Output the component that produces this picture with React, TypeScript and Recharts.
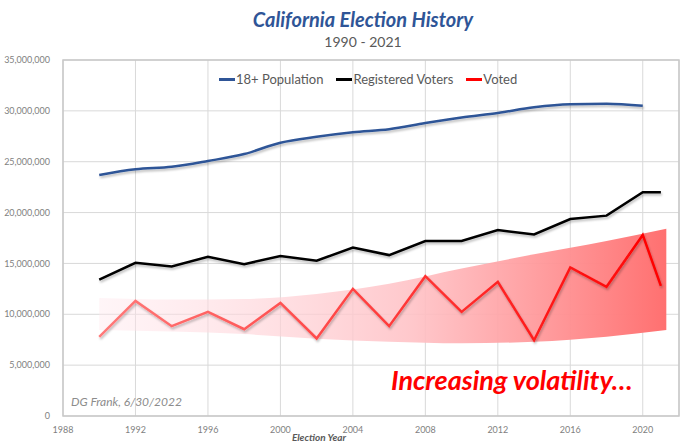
import React from "react";
import {
  ComposedChart,
  Line,
  Area,
  XAxis,
  YAxis,
  CartesianGrid,
  ReferenceArea,
} from "recharts";

// election years (even years + 2021 recall)
const years = [
  1990, 1992, 1994, 1996, 1998, 2000, 2002, 2004, 2006, 2008, 2010, 2012, 2014,
  2016, 2018, 2020, 2021,
];

const population = [
  23700000, 24250000, 24500000, 25070000, 25750000, 26870000, 27450000,
  27900000, 28200000, 28800000, 29350000, 29800000, 30350000, 30650000,
  30700000, 30500000, null,
];

const registered = [
  13400000, 15060000, 14700000, 15650000, 14930000, 15720000, 15260000,
  16570000, 15820000, 17200000, 17200000, 18280000, 17850000, 19360000,
  19700000, 22000000, 22000000,
];

const voted = [
  7780000, 11320000, 8830000, 10240000, 8530000, 11120000, 7620000, 12500000,
  8830000, 13750000, 10240000, 13190000, 7450000, 14600000, 12700000,
  17800000, 12800000,
];

// shaded "volatility" band
const bandYears = [1990, 1994, 1998, 2002, 2006, 2010, 2014, 2018, 2021.3];
const bandLow = [
  8450000, 8300000, 8050000, 7600000, 7300000, 7150000, 7300000, 7800000,
  8450000,
];
const bandHigh = [
  11600000, 11450000, 11500000, 12000000, 13000000, 14500000, 15900000,
  17200000, 18400000,
];

const xTicks = [1988, 1992, 1996, 2000, 2004, 2008, 2012, 2016, 2020];
const yTicks = [0, 5000000, 10000000, 15000000, 20000000, 25000000, 30000000, 35000000];

const legendItems = [
  { name: "18+ Population", color: "#2F5597" },
  { name: "Registered Voters", color: "#000000" },
  { name: "Voted", color: "#FF0000" },
];

type Row = {
  year: number;
  population?: number | null;
  registered?: number | null;
  voted?: number | null;
  band?: [number, number] | null;
};

const allX = Array.from(new Set([...years, ...bandYears])).sort((a, b) => a - b);
const data: Row[] = allX.map((x) => {
  const i = years.indexOf(x);
  const j = bandYears.indexOf(x);
  return {
    year: x,
    population: i >= 0 ? population[i] : null,
    registered: i >= 0 ? registered[i] : null,
    voted: i >= 0 ? voted[i] : null,
    band: j >= 0 ? [bandLow[j], bandHigh[j]] : null,
  };
});

const FONT = "Lato, 'Open Sans', sans-serif";
const fmt = (v: number) => v.toLocaleString("en-US");

export default function App() {
  return (
    <div
      style={{
        position: "absolute",
        left: 0,
        top: 0,
        width: 687,
        height: 446,
        background: "#fff",
        fontFamily: FONT,
      }}
    >
      <div
        style={{
          position: "absolute",
          top: 7,
          left: 0,
          width: 726,
          textAlign: "center",
          fontSize: 20,
          fontWeight: 700,
          fontStyle: "italic",
          color: "#2F5597",
        }}
      >
        California Election History
      </div>
      <div
        style={{
          position: "absolute",
          top: 33,
          left: 0,
          width: 726,
          textAlign: "center",
          fontSize: 14,
          color: "#595959",
        }}
      >
        1990 - 2021
      </div>
      <ComposedChart
        width={687}
        height={446}
        data={data}
        margin={{ top: 60, right: 8, left: 0, bottom: 0 }}
      >
        <defs>
          <linearGradient id="bandFill" x1="0" y1="0" x2="1" y2="0">
            <stop offset="0%" stopColor="#FFE6EC" stopOpacity={0.4} />
            <stop offset="55%" stopColor="#FFC2C6" stopOpacity={0.9} />
            <stop offset="100%" stopColor="#FF7070" stopOpacity={1} />
          </linearGradient>
          <linearGradient id="redLine" x1="0" y1="0" x2="1" y2="0">
            <stop offset="0%" stopColor="#FF7A7A" />
            <stop offset="100%" stopColor="#FF0000" />
          </linearGradient>
          <filter id="shadow" x="-5%" y="-20%" width="110%" height="160%">
            <feDropShadow dx="1" dy="2" stdDeviation="1" floodColor="#000" floodOpacity="0.25" />
          </filter>
        </defs>
        <CartesianGrid stroke="#D9D9D9" strokeWidth={1} />
        <XAxis
          dataKey="year"
          type="number"
          domain={[1988, 2022]}
          ticks={xTicks}
          height={30}
          axisLine={false}
          tickLine={false}
          tickMargin={5}
          tick={{ fontSize: 9, fill: "#7F7F7F", fontFamily: FONT }}
          interval={0}
        />
        <YAxis
          type="number"
          domain={[0, 35000000]}
          ticks={yTicks}
          width={63}
          axisLine={false}
          tickLine={false}
          tickMargin={7}
          tickFormatter={fmt}
          tick={{ fontSize: 9, fill: "#7F7F7F", fontFamily: FONT }}
          interval={0}
        />
        <ReferenceArea
          x1={1988}
          x2={2022}
          y1={0}
          y2={35000000}
          fill="none"
          stroke="#C8C8C8"
          strokeWidth={1.5}
          ifOverflow="visible"
        />
        <Area
          dataKey="band"
          type="monotone"
          fill="url(#bandFill)"
          stroke="none"
          fillOpacity={1}
          connectNulls
          legendType="none"
          isAnimationActive={false}
          activeDot={false}
        />
        <Line
          dataKey="population"
          name="18+ Population"
          type="monotone"
          stroke="#2F5597"
          strokeWidth={2.5}
          dot={false}
          filter="url(#shadow)"
          isAnimationActive={false}
        />
        <Line
          dataKey="registered"
          name="Registered Voters"
          type="linear"
          stroke="#000000"
          strokeWidth={2.5}
          dot={false}
          filter="url(#shadow)"
          isAnimationActive={false}
        />
        <Line
          dataKey="voted"
          name="Voted"
          type="linear"
          stroke="url(#redLine)"
          strokeWidth={2.5}
          dot={false}
          filter="url(#shadow)"
          isAnimationActive={false}
        />
      </ComposedChart>
      <div
        style={{
          position: "absolute",
          top: 71,
          left: 219,
          display: "flex",
          fontSize: 13,
          color: "#595959",
          gap: 13,
        }}
      >
        {legendItems.map((it) => (
          <div key={it.name} style={{ display: "flex", alignItems: "center" }}>
            <span
              style={{
                display: "inline-block",
                width: 16,
                height: 3,
                background: it.color,
                marginRight: 1,
              }}
            />
            {it.name}
          </div>
        ))}
      </div>
      <div
        style={{
          position: "absolute",
          left: 0,
          width: 638,
          top: 431,
          textAlign: "center",
          fontSize: 10,
          fontWeight: 700,
          fontStyle: "italic",
          color: "#595959",
        }}
      >
        Election Year
      </div>
      <div
        style={{
          position: "absolute",
          left: 71,
          top: 394,
          fontSize: 12,
          fontStyle: "italic",
          color: "#8C8C8C",
        }}
      >
        DG Frank, 6/30/2022
      </div>
      <div
        style={{
          position: "absolute",
          left: 391,
          top: 363,
          fontSize: 27,
          fontWeight: 700,
          fontStyle: "italic",
          color: "#FF0000",
          whiteSpace: "nowrap",
        }}
      >
        Increasing volatility…
      </div>
    </div>
  );
}
